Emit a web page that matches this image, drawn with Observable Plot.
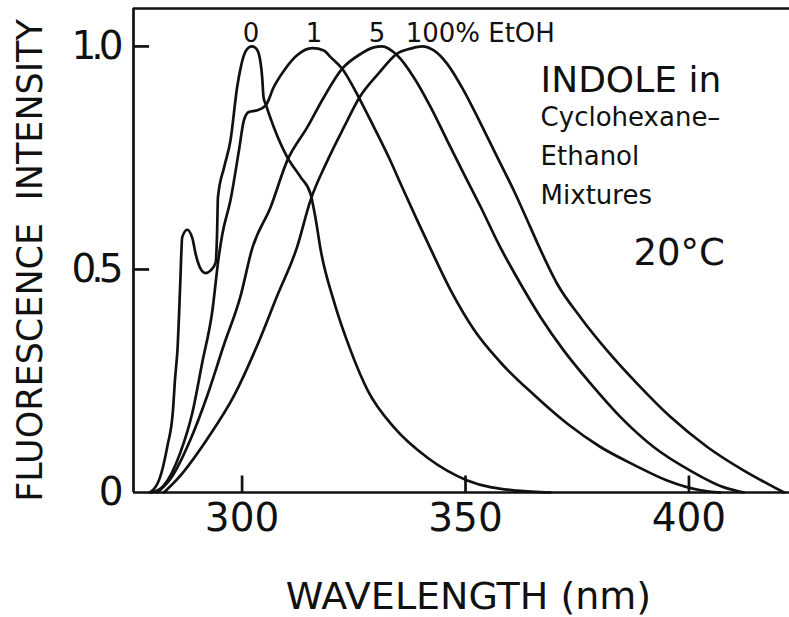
<!DOCTYPE html>
<html>
<head>
<meta charset="utf-8">
<script src="https://cdn.jsdelivr.net/npm/d3@7"></script>
<script src="https://cdn.jsdelivr.net/npm/@observablehq/plot@0.6"></script>
<style>
  html, body { margin: 0; padding: 0; background: #fff; }
  #chart svg { display: block; }
</style>
</head>
<body>
<div id="chart"></div>
<script>
// ---- data (wavelength in nm, normalized intensity) ----
const wl_0  = [279.3, 281.5, 283.3, 284.5, 285.0, 285.6, 285.9, 286.2, 286.6, 287.7, 288.9, 289.6, 290.7, 291.8, 293.0, 294.1, 294.4, 294.6, 296.0, 297.4, 298.9, 299.7, 300.4, 301.2, 302.1, 303.0, 303.7, 304.5, 304.8, 305.3, 307.1, 310.1, 313.1, 315.3, 316.4, 317.6, 320.5, 324.3, 328.1, 334.0, 341.5, 350.4, 361.6, 369.0];
const int_0 = [0.000, 0.030, 0.105, 0.180, 0.255, 0.330, 0.400, 0.480, 0.572, 0.589, 0.569, 0.535, 0.502, 0.492, 0.498, 0.516, 0.580, 0.662, 0.730, 0.789, 0.909, 0.953, 0.980, 0.995, 1.000, 0.997, 0.985, 0.930, 0.886, 0.870, 0.819, 0.752, 0.707, 0.670, 0.617, 0.543, 0.430, 0.318, 0.229, 0.146, 0.078, 0.027, 0.004, 0.000];

const wl_1  = [279.8, 282.5, 286.2, 288.9, 291.1, 293.3, 294.8, 295.6, 297.4, 299.3, 300.4, 301.5, 303.4, 305.3, 307.1, 309.4, 312.3, 315.7, 318.3, 319.8, 322.4, 326.1, 329.5, 332.8, 335.8, 339.2, 341.4, 346.6, 351.9, 357.8, 365.3, 372.8, 380.2, 387.7, 395.1, 402.6, 407.0];
const int_1 = [0.000, 0.016, 0.090, 0.180, 0.292, 0.404, 0.530, 0.580, 0.655, 0.767, 0.834, 0.853, 0.857, 0.868, 0.909, 0.946, 0.980, 0.996, 0.991, 0.976, 0.950, 0.886, 0.819, 0.752, 0.685, 0.610, 0.563, 0.455, 0.365, 0.292, 0.219, 0.154, 0.102, 0.062, 0.027, 0.005, 0.000];

const wl_5  = [281.0, 284.0, 288.5, 292.2, 295.9, 299.7, 302.2, 306.4, 310.1, 314.6, 318.3, 322.4, 326.5, 329.5, 331.3, 334.7, 338.4, 342.2, 345.9, 349.6, 353.4, 357.5, 362.3, 366.8, 372.0, 378.0, 384.7, 392.1, 400.3, 407.7, 412.3];
const int_5 = [0.000, 0.031, 0.120, 0.217, 0.330, 0.442, 0.545, 0.640, 0.744, 0.819, 0.886, 0.950, 0.983, 0.998, 1.000, 0.980, 0.931, 0.864, 0.789, 0.715, 0.640, 0.555, 0.468, 0.393, 0.318, 0.244, 0.169, 0.102, 0.049, 0.012, 0.000];

const wl_100  = [282.5, 286.2, 292.2, 298.2, 303.4, 307.9, 312.3, 315.3, 319.1, 322.8, 326.3, 330.6, 334.7, 337.7, 340.3, 342.9, 345.9, 349.6, 353.4, 357.1, 360.8, 364.5, 366.5, 370.5, 375.7, 381.7, 388.4, 395.9, 404.1, 412.3, 419.0, 421.3];
const int_100 = [0.000, 0.038, 0.120, 0.217, 0.330, 0.442, 0.550, 0.655, 0.744, 0.819, 0.886, 0.940, 0.984, 0.995, 1.000, 0.991, 0.961, 0.901, 0.827, 0.752, 0.677, 0.595, 0.550, 0.468, 0.393, 0.318, 0.244, 0.169, 0.102, 0.049, 0.012, 0.000];

const seriesNames  = ["0", "1", "5", "100"];
const seriesLabels = ["0", "1", "5", "100% EtOH"];
const peakLabelX   = [302.0, 316.1, 330.2, 336.6];

const xTicks = [300, 350, 400];
const yTicks = [0, 0.5, 1.0];
const xDomain = [275.7, 422.5];
const yDomain = [0, 1.085];

const titleLines = ["INDOLE in"];
const subtitleLines = ["Cyclohexane\u2013", "Ethanol", "Mixtures"];
const tempLabel = "20°C";
const xLabel = "WAVELENGTH (nm)";
const yLabel = "FLUORESCENCE  INTENSITY";

// ---- build table ----
const wls = [wl_0, wl_1, wl_5, wl_100];
const ints = [int_0, int_1, int_5, int_100];
const data = [];
seriesNames.forEach((s, i) => wls[i].forEach((w, j) => data.push({series: s, wl: w, v: ints[i][j]})));
const labelData = seriesLabels.map((t, i) => ({t, x: peakLabelX[i]}));

const ink = "#111";
const sw = 2.7;

const chart = Plot.plot({
  width: 789,
  height: 617,
  marginLeft: 133,
  marginRight: 0,
  marginTop: 8,
  marginBottom: 125,
  x: {domain: xDomain},
  y: {domain: yDomain},
  style: {fontFamily: "DejaVu Sans", color: ink, background: "#fff"},
  marks: [
    // frame: left, bottom, top
    Plot.ruleX([xDomain[0]], {stroke: ink, strokeWidth: sw}),
    Plot.ruleY([0], {stroke: ink, strokeWidth: sw}),
    Plot.ruleY([yDomain[1]], {stroke: ink, strokeWidth: sw}),
    // inward ticks
    Plot.ruleX(xTicks, {y1: 0, y2: 0.037, stroke: ink, strokeWidth: sw}),
    Plot.ruleY(yTicks.filter(d => d > 0), {x1: xDomain[0], x2: xDomain[0] + 3.6, stroke: ink, strokeWidth: sw}),
    // tick labels
    Plot.axisX({ticks: xTicks, tickSize: 0, tickPadding: 11, fontSize: 39, label: null, tickFormat: d => String(d)}),
    Plot.axisY({ticks: yTicks, tickSize: 0, tickPadding: 15, fontSize: 39, label: null,
      tickFormat: d => d === 0 ? "0" : d.toFixed(1)}),
    // curves
    Plot.line(data, {x: "wl", y: "v", z: "series", curve: "monotone-x", stroke: ink, strokeWidth: sw}),
    // curve labels
    Plot.text(labelData.slice(0, 3), {x: "x", y: 1.009, text: "t", textAnchor: "middle", lineAnchor: "bottom", fontSize: 26, fill: ink}),
    Plot.text(labelData.slice(3), {x: "x", y: 1.009, text: "t", textAnchor: "start", lineAnchor: "bottom", fontSize: 26, fill: ink}),
    // annotations
    Plot.text(titleLines, {x: 366.8, y: 0.897, text: d => d, textAnchor: "start", lineAnchor: "bottom", fontSize: 36, fill: ink}),
    Plot.text([subtitleLines.join("\n")], {x: 366.8, y: 0.823, text: d => d, textAnchor: "start", lineAnchor: "top", dy: -27, lineHeight: 1.5, fontSize: 26, fill: ink}),
    Plot.text([tempLabel], {x: 387.6, y: 0.511, text: d => d, textAnchor: "start", lineAnchor: "bottom", fontSize: 37, fill: ink}),
    // axis titles
    Plot.text([xLabel], {frameAnchor: "bottom", text: d => d, textAnchor: "middle", lineAnchor: "bottom", dx: 7, dy: 116, fontSize: 38, fill: ink}),
    Plot.text([yLabel], {frameAnchor: "left", text: d => d, textAnchor: "middle", rotate: -90, lineAnchor: "middle", dx: -103, dy: 10, fontSize: 35, fill: ink})
  ]
});

d3.select(chart).selectAll('g[aria-label="y-axis tick label"] text').attr("letter-spacing", "-5px");
document.getElementById("chart").appendChild(chart);
</script>
</body>
</html>
